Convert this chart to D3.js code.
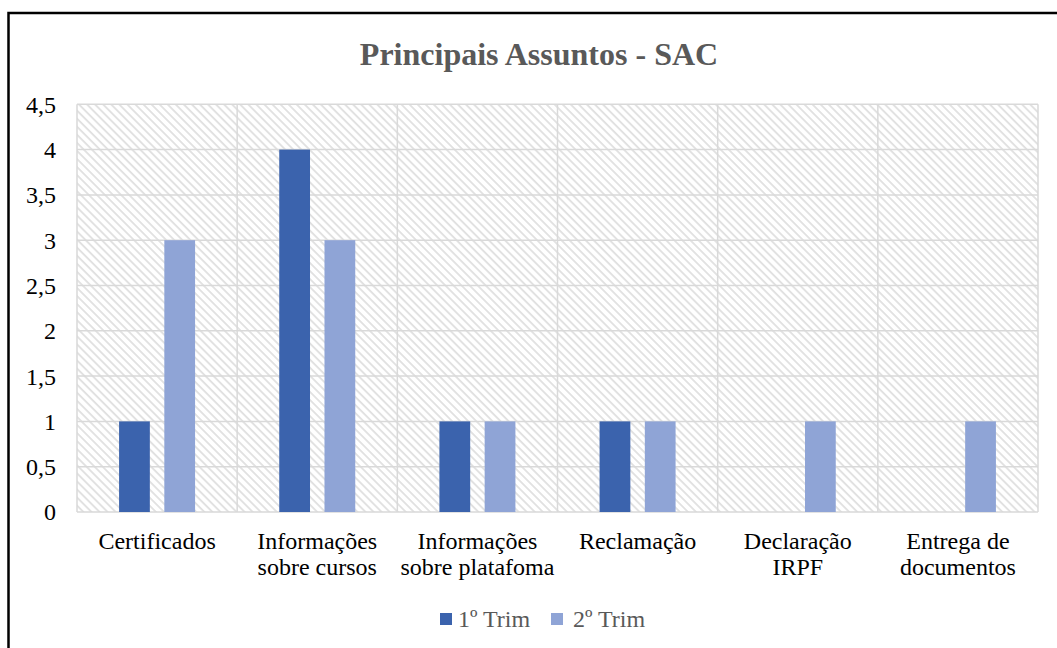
<!DOCTYPE html>
<html><head><meta charset="utf-8">
<script src="https://cdn.jsdelivr.net/npm/d3@7"></script>
<style>body{margin:0;background:#fff}svg{display:block}</style>
</head><body>
<script>
const categories = [["Certificados"],["Informações","sobre cursos"],["Informações","sobre platafoma"],["Reclamação"],["Declaração","IRPF"],["Entrega de","documentos"]];
const seriesNames = ["1º Trim","2º Trim"];
const trim1 = [1,4,1,1,null,null];
const trim2 = [3,3,1,1,1,1];
const yTicks = [0,0.5,1,1.5,2,2.5,3,3.5,4,4.5];
const colors = ["#3B63AD","#8FA4D6"];

const W=1057,H=648;
const svg=d3.select("body").append("svg").attr("width",W).attr("height",H);
const defs=svg.append("defs");
const pat=defs.append("pattern").attr("id","hatch").attr("patternUnits","userSpaceOnUse")
  .attr("width",6).attr("height",5.7).attr("patternTransform","rotate(45)");
pat.append("rect").attr("width",6).attr("height",5.7).attr("fill","#fff");
pat.append("rect").attr("y",0).attr("width",6).attr("height",1.8).attr("fill","#E0E0E0");

// outer frame
svg.append("rect").attr("x",8.5).attr("y",13).attr("width",1060).attr("height",660)
  .attr("fill","#fff").attr("stroke","#000").attr("stroke-width",2.5);

const L=77,R=1038,T=104.3,B=512;
const x=d3.scaleBand().domain(d3.range(categories.length)).range([L,R]);
const y=d3.scaleLinear().domain([0,4.5]).range([B,T]);
const x1=d3.scaleBand().domain([0,1]).range([0,76]).paddingInner(0.32);

svg.append("rect").attr("x",L).attr("y",T).attr("width",R-L).attr("height",B-T).attr("fill","url(#hatch)");

const grid=svg.append("g").attr("stroke","#D9D9D9").attr("stroke-width",1.5);
yTicks.forEach(t=>grid.append("line").attr("x1",L).attr("x2",R).attr("y1",y(t)).attr("y2",y(t)));
d3.range(categories.length+1).forEach(i=>{
  const xx = i<categories.length? x(i): R;
  grid.append("line").attr("x1",xx).attr("x2",xx).attr("y1",T).attr("y2",B);
});

const series=[trim1,trim2];
series.forEach((s,si)=>{
  svg.append("g").selectAll("rect").data(s.map((v,i)=>({v,i})).filter(d=>d.v!=null)).join("rect")
    .attr("x",d=>x(d.i)+x.bandwidth()/2-38+x1(si)).attr("width",x1.bandwidth())
    .attr("y",d=>y(d.v)).attr("height",d=>B-y(d.v)).attr("fill",colors[si]);
});

const font="'Liberation Serif','Times New Roman',serif";
// y axis labels
svg.append("g").selectAll("text").data(yTicks).join("text")
  .attr("x",56).attr("y",d=>y(d)).attr("dy","0.35em").attr("text-anchor","end")
  .attr("font-family",font).attr("font-size",24).attr("fill","#000")
  .text(d=>d3.format("")(d).replace(".",","));

// x labels
const xl=svg.append("g");
categories.forEach((c,i)=>{
  const t=xl.append("text").attr("x",x(i)+x.bandwidth()/2).attr("y",549)
    .attr("text-anchor","middle").attr("font-family",font).attr("font-size",24).attr("fill","#000");
  c.forEach((line,j)=>t.append("tspan").attr("x",x(i)+x.bandwidth()/2).attr("dy",j?26:0).text(line));
});

// title
svg.append("text").attr("x",539).attr("y",65).attr("text-anchor","middle")
  .attr("font-family",font).attr("font-size",32).attr("font-weight","bold").attr("fill","#595959")
  .text("Principais Assuntos - SAC");

// legend
const leg=[{x:440,tx:458},{x:551,tx:573}];
seriesNames.forEach((n,i)=>{
  svg.append("rect").attr("x",leg[i].x).attr("y",613).attr("width",12).attr("height",12).attr("fill",colors[i]);
  svg.append("text").attr("x",leg[i].tx).attr("y",619).attr("dy","0.35em")
    .attr("font-family",font).attr("font-size",24).attr("fill","#595959").text(n);
});
</script>
</body></html>
